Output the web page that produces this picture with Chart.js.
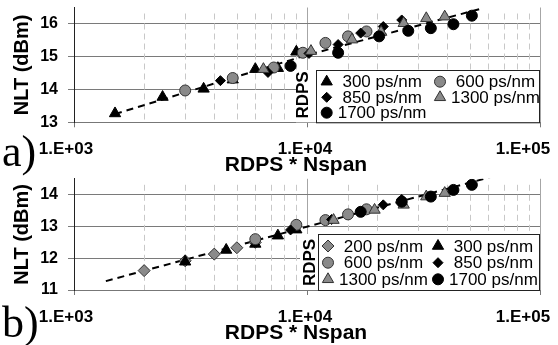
<!DOCTYPE html>
<html>
<head>
<meta charset="utf-8">
<script src="https://cdn.jsdelivr.net/npm/chart.js@4.4.1/dist/chart.umd.min.js"></script>
<style>
  html, body { margin: 0; padding: 0; background: #fff; }
  #wrap { position: relative; width: 558px; height: 345px; overflow: hidden; }
  canvas { position: absolute; left: 0; }
  #chartA { top: 0; }
  #chartB { top: 170px; }
</style>
</head>
<body>
<div id="wrap">
  <canvas id="chartA" width="558" height="180"></canvas>
  <canvas id="chartB" width="558" height="175"></canvas>
</div>
<script>
// ---- data ----------------------------------------------------------------
const xTickValues = [1000, 10000, 100000];
const xTickLabels = ['1.E+03', '1.E+04', '1.E+05'];
const yTicksA = [13, 14, 15, 16];
const yTicksB = [11, 12, 13, 14];

// a)
const rdpsA300 = [1500, 2400, 3600, 4800, 6000, 7500, 9000];
const nltA300 = [13.27, 13.77, 14.02, 14.30, 14.62, 14.65, 15.15];
const rdpsA600 = [3000, 4800, 7200, 9600, 12000, 15000, 18000];
const nltA600 = [13.97, 14.35, 14.67, 15.12, 15.42, 15.62, 15.77];
const rdpsA850 = [4250, 6800, 10200, 13600, 17000, 21250, 25500];
const nltA850 = [14.27, 14.52, 15.10, 15.37, 15.72, 15.92, 16.12];
const rdpsA1300 = [6500, 10400, 15600, 20800, 26000, 32500, 39000];
const nltA1300 = [14.62, 15.17, 15.52, 15.75, 16.02, 16.17, 16.22];
const rdpsA1700 = [8500, 13600, 20400, 27200, 34000, 42500, 51000];
const nltA1700 = [14.72, 15.12, 15.62, 15.79, 15.87, 15.99, 16.25];
const trendAx = [1500, 10000, 55000];
const trendAy = [13.25, 15.05, 16.45];

// b)
const rdpsB200 = [2000, 3000, 4000, 5000, 6000];
const nltB200 = [11.61, 11.92, 12.13, 12.33, 12.50];
const rdpsB300 = [3000, 4500, 6000, 7500, 9000];
const nltB300 = [11.89, 12.26, 12.45, 12.71, 12.90];
const rdpsB600 = [6000, 9000, 12000, 15000, 18000];
const nltB600 = [12.60, 13.05, 13.20, 13.38, 13.54];
const rdpsB850 = [8500, 12750, 17000, 21250, 25500];
const nltB850 = [12.89, 13.22, 13.46, 13.68, 13.85];
const rdpsB1300 = [13000, 19500, 26000, 32500, 39000];
const nltB1300 = [13.20, 13.52, 13.68, 13.94, 14.05];
const rdpsB1700 = [17000, 25500, 34000, 42500, 51000];
const nltB1700 = [13.46, 13.78, 13.94, 14.15, 14.31];
const trendBx = [1370, 61000];
const trendBy = [11.28, 14.55];

// ---- styles ----------------------------------------------------------------
const SANS = "'Liberation Sans', Arial, sans-serif";
const GRAY = '#8a8a8a';
const marker = {
  '200': { pointStyle: 'rectRot', pointRadius: 6, pointBackgroundColor: GRAY, pointBorderColor: '#333', pointBorderWidth: 1 },
  '300': { pointStyle: 'triangle', pointRadius: 6.5, pointBackgroundColor: '#000', pointBorderColor: '#000', pointBorderWidth: 1 },
  '600': { pointStyle: 'circle', pointRadius: 5.5, pointBackgroundColor: GRAY, pointBorderColor: '#333', pointBorderWidth: 1 },
  '850': { pointStyle: 'rectRot', pointRadius: 5, pointBackgroundColor: '#000', pointBorderColor: '#000', pointBorderWidth: 1 },
  '1300': { pointStyle: 'triangle', pointRadius: 6.5, pointBackgroundColor: GRAY, pointBorderColor: '#333', pointBorderWidth: 1 },
  '1700': { pointStyle: 'circle', pointRadius: 5.5, pointBackgroundColor: '#000', pointBorderColor: '#000', pointBorderWidth: 1 }
};

function pts(xs, ys) {
  return xs.map((x, i) => ({ x: x, y: ys[i] }));
}

function series(disp, xs, ys, order) {
  return Object.assign({
    label: disp + ' ps/nm',
    data: pts(xs, ys),
    showLine: false,
    pointHoverRadius: 0,
    order: order
  }, marker[disp]);
}

function trend(xs, ys) {
  return {
    label: 'trend',
    data: pts(xs, ys),
    showLine: true,
    pointRadius: 0,
    borderColor: '#000',
    borderWidth: 2,
    borderDash: [7, 5],
    order: 20
  };
}

const isPow10 = v => Math.abs(Math.log10(v) - Math.round(Math.log10(v))) < 1e-9;

// minor vertical grid lines, dashed
const minorGrid = {
  id: 'minorGrid',
  beforeDatasetsDraw(chart) {
    const { ctx, chartArea } = chart;
    const sx = chart.scales.x;
    ctx.save();
    ctx.strokeStyle = '#c8c8c8';
    ctx.lineWidth = 1;
    ctx.setLineDash([6, 4]);
    sx.ticks.forEach(t => {
      if (isPow10(t.value)) return;
      const px = Math.round(sx.getPixelForValue(t.value)) + 0.5;
      ctx.beginPath();
      ctx.moveTo(px, chartArea.top + 6);
      ctx.lineTo(px, chartArea.bottom);
      ctx.stroke();
    });
    ctx.restore();
  }
};

// legend box in the lower right, with the cut "RDPS" title beside it
const boxLegend = {
  id: 'boxLegend',
  afterDatasetsDraw(chart, args, o) {
    const { ctx } = chart;
    ctx.save();
    ctx.fillStyle = '#fff';
    ctx.fillRect(o.x - o.gap, o.y, o.w + o.gap, o.h);
    ctx.strokeStyle = '#222';
    ctx.lineWidth = 1;
    ctx.strokeRect(o.x + 0.5, o.y + 0.5, o.w - 1, o.h);

    ctx.fillStyle = '#000';
    ctx.font = 'bold 17px ' + SANS;
    ctx.textAlign = 'center';
    ctx.textBaseline = 'middle';
    ctx.save();
    ctx.translate(o.x + o.titleDx, o.y + o.titleDy);
    ctx.rotate(-Math.PI / 2);
    ctx.fillText('RDPS', 0, 0);
    ctx.restore();

    ctx.font = '17px ' + SANS;
    ctx.textAlign = 'left';
    o.items.forEach((dsIndex, k) => {
      const ds = chart.data.datasets[dsIndex];
      const col = k % 2, row = Math.floor(k / 2);
      const mx = o.x + o.colX[col], my = o.y + o.rowY[row];
      ctx.fillStyle = ds.pointBackgroundColor;
      ctx.strokeStyle = ds.pointBorderColor;
      ctx.lineWidth = ds.pointBorderWidth;
      Chart.helpers.drawPoint(ctx, { pointStyle: ds.pointStyle, radius: ds.pointRadius, rotation: 0, borderWidth: ds.pointBorderWidth }, mx, my);
      ctx.fillStyle = '#000';
      ctx.fillText(ds.label.padStart(10), mx + 11, my + 1);
    });
    ctx.restore();
  }
};

// x tick labels, x title and panel letter
const axisTexts = {
  id: 'axisTexts',
  afterDraw(chart, args, o) {
    const { ctx, chartArea } = chart;
    const sx = chart.scales.x;
    const shift = [-8, -2, -17];
    ctx.save();
    ctx.fillStyle = '#000';
    ctx.textAlign = 'center';
    ctx.textBaseline = 'middle';
    ctx.font = 'bold 17px ' + SANS;
    xTickValues.forEach((v, i) => {
      ctx.fillText(xTickLabels[i], sx.getPixelForValue(v) + shift[i], chartArea.bottom + 27);
    });
    ctx.font = 'bold 21px ' + SANS;
    ctx.fillText('RDPS * Nspan', 296, o.titleY);
    ctx.textAlign = 'left';
    ctx.textBaseline = 'alphabetic';
    ctx.font = "44px 'Liberation Serif', 'Times New Roman', serif";
    ctx.fillText(o.panel, 2, o.panelY);
    ctx.restore();
  }
};

function makeChart(id, datasets, cfg) {
  return new Chart(document.getElementById(id), {
    type: 'scatter',
    data: { datasets: datasets },
    plugins: [minorGrid, boxLegend, axisTexts],
    options: {
      responsive: false,
      animation: false,
      events: [],
      layout: { padding: { top: cfg.top, right: 18, left: 0, bottom: 0 } },
      plugins: {
        legend: { display: false },
        tooltip: { enabled: false },
        boxLegend: cfg.legend,
        axisTexts: cfg.texts
      },
      scales: {
        x: {
          type: 'logarithmic',
          min: 1000,
          max: 100000,
          afterFit: s => { s.height = cfg.xHeight; s.paddingLeft = 0; s.paddingRight = 0; },
          ticks: { display: false, autoSkip: false },
          grid: {
            color: c => (c.tick && isPow10(c.tick.value) && c.tick.value > 1000) ? '#a6a6a6' : 'transparent',
            tickColor: c => (c.tick && isPow10(c.tick.value)) ? '#777' : 'transparent',
            tickLength: 5,
            lineWidth: 1
          },
          border: { color: '#777', width: 1 }
        },
        y: {
          min: cfg.yMin,
          max: cfg.yMax,
          afterBuildTicks: s => { s.ticks = cfg.yTicks.map(v => ({ value: v })); },
          afterFit: s => { s.width = 74; s.paddingTop = 0; s.paddingBottom = 0; },
          ticks: { color: '#000', padding: 10, font: { family: SANS, size: 16, weight: 'bold' } },
          grid: { color: '#7a7a7a', tickColor: '#7a7a7a', tickLength: 6, lineWidth: 1 },
          border: { color: '#222', width: 1 },
          title: {
            display: true,
            text: 'NLT (dBm)',
            color: '#000',
            font: { family: SANS, size: 20, weight: 'bold' },
            padding: { top: 10, bottom: 0 }
          }
        }
      }
    }
  });
}

const dsA = [
  series('300', rdpsA300, nltA300, 10),
  series('600', rdpsA600, nltA600, 9),
  series('850', rdpsA850, nltA850, 8),
  series('1300', rdpsA1300, nltA1300, 7),
  series('1700', rdpsA1700, nltA1700, 6),
  trend(trendAx, trendAy)
];

const dsB = [
  series('200', rdpsB200, nltB200, 11),
  series('300', rdpsB300, nltB300, 10),
  series('600', rdpsB600, nltB600, 9),
  series('850', rdpsB850, nltB850, 8),
  series('1300', rdpsB1300, nltB1300, 7),
  series('1700', rdpsB1700, nltB1700, 6),
  trend(trendBx, trendBy)
];

makeChart('chartA', dsA, {
  top: 5.6, xHeight: 180 - 122.3, yMin: 13, yMax: 16.5, yTicks: yTicksA,
  legend: { x: 316, y: 70, w: 224, h: 52.3, gap: 20, titleDx: -12.5, titleDy: 25,
            colX: [10.7, 124], rowY: [11.7, 27.3, 42.7], items: [0, 1, 2, 3, 4] },
  texts: { panel: 'a)', panelY: 166, titleY: 165.5 }
});

makeChart('chartB', dsB, {
  top: 8.8, xHeight: 175 - 120, yMin: 11, yMax: 14.5, yTicks: yTicksB,
  legend: { x: 318, y: 64, w: 222, h: 56, gap: 18, titleDx: -7.3, titleDy: 28.5,
            colX: [10, 120], rowY: [12, 28.7, 45.3], items: [0, 1, 2, 3, 4, 5] },
  texts: { panel: 'b)', panelY: 167, titleY: 163.3 }
});
</script>
</body>
</html>
